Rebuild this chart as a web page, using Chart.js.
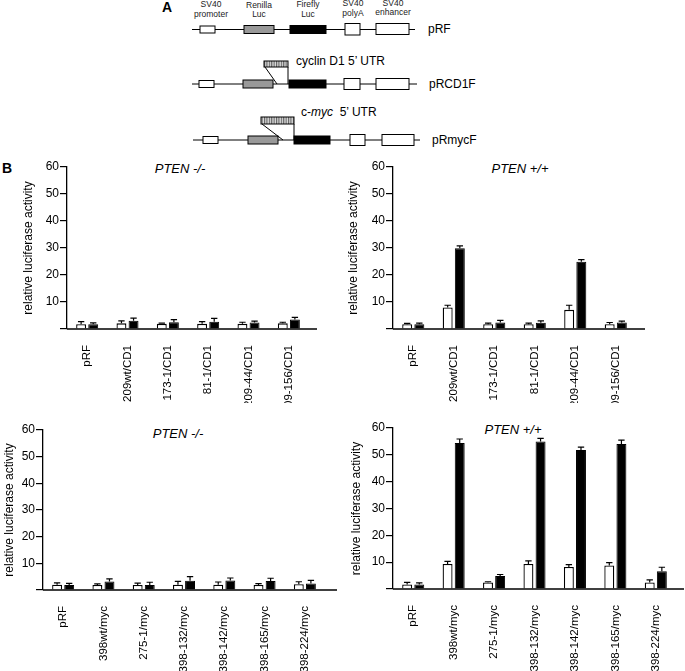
<!DOCTYPE html>
<html>
<head>
<meta charset="utf-8">
<script src="https://cdn.jsdelivr.net/npm/chart.js@4.4.1/dist/chart.umd.min.js"></script>
<style>
    body { margin: 0; background: #fff; }
    #page { position: relative; width: 685px; height: 671px; overflow: hidden; font-family: 'Liberation Sans', Arial, sans-serif; }
    canvas { position: absolute; }
    .panel-title { position: absolute; font-size: 13px; font-style: italic; transform: translate(-50%, -50%); white-space: nowrap; }
    .panel-letter { position: absolute; font-size: 14px; font-weight: bold; }
    svg { position: absolute; left: 0; top: 0; }
</style>
</head>
<body>
<div id="page">
    <svg id="diagram" width="685" height="150" font-family="Liberation Sans, Arial, sans-serif">
        <defs>
            <pattern id="hatch" width="2.4" height="10" patternUnits="userSpaceOnUse">
                <rect width="2.4" height="10" fill="#ddd"></rect>
                <line x1="0.6" y1="0" x2="0.6" y2="10" stroke="#444" stroke-width="0.9"></line>
            </pattern>
        </defs>
        <text x="167" y="8" font-size="14" font-weight="bold" text-anchor="middle" dominant-baseline="middle">A</text>

        <g font-size="8.5" text-anchor="middle" dominant-baseline="middle" fill="#222">
            <text x="211" y="5">SV40</text><text x="211" y="15">promoter</text>
            <text x="259" y="6">Renilla</text><text x="259" y="15">Luc</text>
            <text x="308" y="5">Firefly</text><text x="308" y="15">Luc</text>
            <text x="353" y="4">SV40</text><text x="353" y="13.5">polyA</text>
            <text x="393" y="3.5">SV40</text><text x="393" y="13">enhancer</text>
        </g>

        <g stroke="#000" stroke-width="1">
            <!-- pRF -->
            <line x1="192" y1="29.5" x2="415" y2="29.5"></line>
            <rect x="200" y="26" width="15" height="7" fill="#fff"></rect>
            <rect x="244" y="25.5" width="30" height="8" fill="#999"></rect>
            <rect x="290" y="25.5" width="36" height="8" fill="#000"></rect>
            <rect x="345" y="23.5" width="15" height="11.5" fill="#fff"></rect>
            <rect x="376" y="23.5" width="33" height="11" fill="#fff"></rect>

            <!-- pRCD1F -->
            <line x1="192" y1="84" x2="417" y2="84"></line>
            <rect x="199" y="80.5" width="15" height="7" fill="#fff"></rect>
            <rect x="243" y="80" width="30" height="8" fill="#999"></rect>
            <rect x="289" y="80" width="37" height="8" fill="#000"></rect>
            <rect x="344" y="78.5" width="16" height="11" fill="#fff"></rect>
            <rect x="376" y="78.5" width="33" height="11" fill="#fff"></rect>
            <rect x="264" y="61" width="24" height="6" fill="url(#hatch)"></rect>
            <line x1="265" y1="67" x2="277" y2="84"></line>
            <line x1="288" y1="67" x2="288" y2="84"></line>

            <!-- pRmycF -->
            <line x1="193" y1="140" x2="420" y2="140"></line>
            <rect x="203" y="136.5" width="15" height="7" fill="#fff"></rect>
            <rect x="248" y="136" width="30" height="8" fill="#999"></rect>
            <rect x="294" y="136" width="36" height="8" fill="#000"></rect>
            <rect x="350" y="134.5" width="15" height="11" fill="#fff"></rect>
            <rect x="382" y="134.5" width="32" height="11" fill="#fff"></rect>
            <rect x="261" y="117" width="33" height="7" fill="url(#hatch)"></rect>
            <line x1="262" y1="124" x2="283" y2="140"></line>
            <line x1="294" y1="124" x2="294" y2="140"></line>
        </g>

        <g font-size="12" dominant-baseline="middle">
            <text x="428" y="30">pRF</text>
            <text x="296" y="62">cyclin D1 5’ UTR</text>
            <text x="429" y="85">pRCD1F</text>
            <text x="301" y="113">c-<tspan font-style="italic">myc</tspan>&#160;&#160;5’ UTR</text>
            <text x="432" y="141">pRmycF</text>
        </g>
    </svg>

    <div class="panel-letter" style="left:2px; top:160px;">B</div>
    <div class="panel-title" style="left:180px; top:168px;">PTEN -/-</div>
    <div class="panel-title" style="left:520px; top:168px;">PTEN +/+</div>
    <div class="panel-title" style="left:178px; top:433px;">PTEN -/-</div>
    <div class="panel-title" style="left:513px; top:429px;">PTEN +/+</div>

    <canvas id="chart-cd-null"></canvas>
    <canvas id="chart-cd-wt"></canvas>
    <canvas id="chart-myc-null"></canvas>
    <canvas id="chart-myc-wt"></canvas>
</div>

<script>
// Data - cyclin D1 constructs
const cdLabels = ['pRF', '209wt/CD1', '173-1/CD1', '81-1/CD1', '209-44/CD1', '209-156/CD1'];

const cdNullWhite = [1.8, 2.1, 1.9, 1.9, 1.9, 2.1];
const cdNullWhiteErr = [0.9, 0.9, 0.3, 0.8, 0.6, 0.4];
const cdNullBlack = [1.8, 3.1, 2.5, 2.7, 2.4, 3.5];
const cdNullBlackErr = [0.5, 0.9, 1.0, 1.2, 0.5, 0.8];

const cdWtWhite = [1.8, 8.0, 1.8, 1.8, 7.1, 1.8];
const cdWtWhiteErr = [0.3, 0.8, 0.4, 0.4, 1.7, 0.6];
const cdWtBlack = [1.8, 29.9, 2.4, 2.3, 24.9, 2.4];
const cdWtBlackErr = [0.4, 0.9, 0.8, 0.7, 0.8, 0.5];

// Data - c-myc constructs
const mycLabels = ['pRF', '398wt/myc', '275-1/myc', '398-132/myc', '398-142/myc', '398-165/myc', '398-224/myc'];

const mycNullWhite = [2.0, 1.9, 1.9, 2.0, 2.0, 1.9, 2.2];
const mycNullWhiteErr = [0.7, 0.4, 0.7, 1.2, 1.0, 0.5, 0.9];
const mycNullBlack = [1.9, 3.2, 1.9, 3.5, 3.6, 3.4, 2.4];
const mycNullBlackErr = [0.6, 1.0, 1.0, 1.5, 0.9, 1.0, 1.2];

const mycWtWhite = [1.7, 9.3, 2.4, 9.3, 8.2, 8.8, 2.4];
const mycWtWhiteErr = [0.8, 1.0, 0.3, 1.2, 0.9, 1.0, 1.0];
const mycWtBlack = [1.7, 54.4, 4.8, 55.0, 51.8, 54.0, 6.6];
const mycWtBlackErr = [0.6, 1.5, 0.6, 1.1, 1.1, 1.5, 1.5];

const yTicks = [0, 10, 20, 30, 40, 50, 60];
const yTitle = 'relative luciferase activity';

const FONT = "'Liberation Sans', Arial, sans-serif";

// Error bars (upper only, with cap) + baseline that runs past the last group
const errorBarPlugin = {
    id: 'errorBars',
    afterDatasetsDraw(chart) {
        const ctx = chart.ctx;
        const yScale = chart.scales.y;
        ctx.save();
        ctx.strokeStyle = '#000';
        ctx.lineWidth = 1.2;
        chart.data.datasets.forEach((ds, i) => {
            const meta = chart.getDatasetMeta(i);
            meta.data.forEach((bar, j) => {
                const top = yScale.getPixelForValue(ds.data[j] + ds.errors[j]);
                const half = bar.width * 0.32;
                ctx.beginPath();
                ctx.moveTo(bar.x, bar.y);
                ctx.lineTo(bar.x, top);
                ctx.moveTo(bar.x - half, top);
                ctx.lineTo(bar.x + half, top);
                ctx.stroke();
            });
        });
        ctx.restore();
    },
    afterDraw(chart, args, opts) {
        const ctx = chart.ctx;
        const area = chart.chartArea;
        const y0 = chart.scales.y.getPixelForValue(0);
        ctx.save();
        ctx.strokeStyle = '#000';
        ctx.lineWidth = 1.3;
        ctx.beginPath();
        ctx.moveTo(area.left, y0);
        ctx.lineTo(area.right + (opts.extend || 0), y0);
        ctx.stroke();
        ctx.restore();
    }
};

function makeChart(id, box, labels, white, whiteErr, black, blackErr) {
    const canvas = document.getElementById(id);
    canvas.width = box.width;
    canvas.height = box.height;
    canvas.style.left = box.left + 'px';
    canvas.style.top = box.top + 'px';

    return new Chart(canvas.getContext('2d'), {
        type: 'bar',
        data: {
            labels: labels,
            datasets: [{
                data: white,
                errors: whiteErr,
                backgroundColor: '#fff',
                borderColor: '#000',
                borderWidth: 1.3,
                categoryPercentage: 0.6,
                barPercentage: 0.82
            }, {
                data: black,
                errors: blackErr,
                backgroundColor: '#000',
                borderColor: '#000',
                borderWidth: 1,
                categoryPercentage: 0.6,
                barPercentage: 0.82
            }]
        },
        options: {
            responsive: false,
            animation: false,
            devicePixelRatio: 1,
            layout: { padding: { top: box.padTop, right: box.padRight, left: 0, bottom: 0 } },
            plugins: {
                legend: { display: false },
                tooltip: { enabled: false },
                errorBars: { extend: box.extend }
            },
            scales: {
                x: {
                    grid: { display: false },
                    border: { display: false },
                    ticks: {
                        color: '#000',
                        font: { family: FONT, size: 11.5 },
                        minRotation: 90,
                        maxRotation: 90,
                        padding: 8,
                        autoSkip: false
                    },
                    afterFit: scale => { scale.height = box.xHeight; }
                },
                y: {
                    min: yTicks[0],
                    max: yTicks[yTicks.length - 1],
                    afterBuildTicks: scale => { scale.ticks = yTicks.map(v => ({ value: v })); },
                    grid: { drawOnChartArea: false, drawTicks: true, tickLength: 7, color: '#000', lineWidth: 1.2 },
                    border: { display: true, color: '#000', width: 1.3 },
                    ticks: {
                        color: '#000',
                        font: { family: FONT, size: 12 },
                        padding: 1,
                        callback: v => v === 0 ? '' : v
                    },
                    title: {
                        display: true,
                        text: yTitle,
                        color: '#000',
                        font: { family: FONT, size: 12 },
                        padding: { top: 2, bottom: 0 }
                    },
                    afterFit: scale => { scale.width = box.yWidth; }
                }
            }
        },
        plugins: [errorBarPlugin]
    });
}

// Build charts
makeChart('chart-cd-null',
    { left: 19, top: 157, width: 321, height: 246, padTop: 10, padRight: 31, yWidth: 48, xHeight: 74, extend: 8 },
    cdLabels, cdNullWhite, cdNullWhiteErr, cdNullBlack, cdNullBlackErr);

makeChart('chart-cd-wt',
    { left: 344, top: 157, width: 341, height: 246, padTop: 10, padRight: 49, yWidth: 49, xHeight: 74, extend: 9 },
    cdLabels, cdWtWhite, cdWtWhiteErr, cdWtBlack, cdWtBlackErr);

makeChart('chart-myc-null',
    { left: 0, top: 420, width: 340, height: 251, padTop: 10, padRight: 15, yWidth: 43, xHeight: 81, extend: 12 },
    mycLabels, mycNullWhite, mycNullWhiteErr, mycNullBlack, mycNullBlackErr);

makeChart('chart-myc-wt',
    { left: 347, top: 418, width: 338, height: 253, padTop: 10, padRight: 9, yWidth: 46, xHeight: 82, extend: 8 },
    mycLabels, mycWtWhite, mycWtWhiteErr, mycWtBlack, mycWtBlackErr);
</script>
</body>
</html>
